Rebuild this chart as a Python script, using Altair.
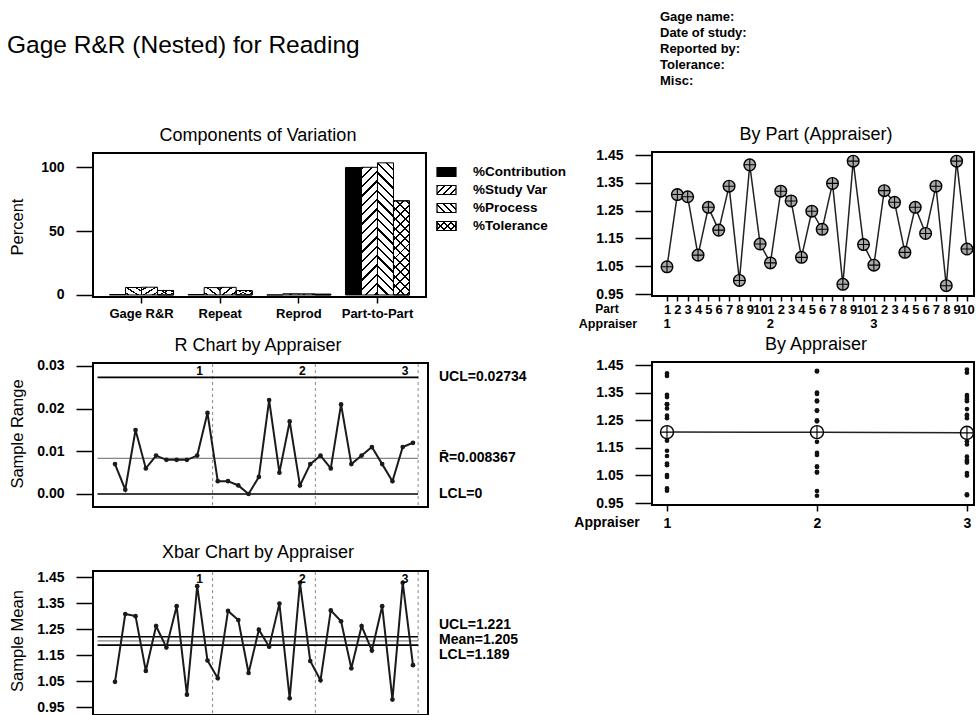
import math
import altair as alt
import pandas as pd

# ------------------------------------------------------------------ data
APPRAISERS = [1, 2, 3]
PARTS = list(range(1, 11))

XBAR_A1 = [1.048, 1.308, 1.300, 1.090, 1.262, 1.180, 1.338, 0.999, 1.415, 1.130]
XBAR_A2 = [1.062, 1.320, 1.285, 1.082, 1.248, 1.183, 1.348, 0.985, 1.428, 1.128]
XBAR_A3 = [1.054, 1.322, 1.280, 1.100, 1.262, 1.168, 1.338, 0.980, 1.428, 1.112]

RANGE_A1 = [0.007, 0.001, 0.015, 0.006, 0.009, 0.008, 0.008, 0.008, 0.009, 0.019]
RANGE_A2 = [0.003, 0.003, 0.002, 0.000, 0.004, 0.022, 0.005, 0.017, 0.002, 0.007]
RANGE_A3 = [0.009, 0.006, 0.021, 0.007, 0.009, 0.011, 0.007, 0.003, 0.011, 0.012]

COMPONENTS = ["Gage R&R", "Repeat", "Reprod", "Part-to-Part"]
MEASURES = ["%Contribution", "%Study Var", "%Process", "%Tolerance"]
PCT_CONTRIBUTION = [0.34, 0.33, 0.01, 99.66]
PCT_STUDY_VAR = [5.85, 5.75, 0.90, 99.83]
PCT_PROCESS = [6.05, 5.95, 0.90, 103.3]
PCT_TOLERANCE = [3.50, 3.45, 0.55, 73.6]

R_LIMIT_NAMES = ["UCL", "R\u0304", "LCL"]
R_LIMIT_VALUES = [0.02734, 0.008367, 0.0]
X_LIMIT_NAMES = ["UCL", "Mean", "LCL"]
X_LIMIT_VALUES = [1.221, 1.205, 1.189]

TITLE = "Gage R&R (Nested) for Reading"
INFO_LINES = ["Gage name:", "Date of study:", "Reported by:", "Tolerance:", "Misc:"]

# ------------------------------------------------------------------ tables
rows = []
for a, xs, rs in zip(APPRAISERS, [XBAR_A1, XBAR_A2, XBAR_A3], [RANGE_A1, RANGE_A2, RANGE_A3]):
    for p, xb, r in zip(PARTS, xs, rs):
        rows.append({"appraiser": a, "part": p, "xbar": xb, "rng": r})
parts = pd.DataFrame(rows)
parts["seq"] = list(range(1, len(parts) + 1))

seps = pd.DataFrame({
    "appraiser": APPRAISERS,
    "end": [float(parts.loc[parts["appraiser"] == a, "seq"].max()) + 0.5 for a in APPRAISERS],
})
firsts = parts[parts["part"] == 1]

comp_df = pd.DataFrame({
    "component": COMPONENTS * 4,
    "measure": [m for m in MEASURES for _ in COMPONENTS],
    "value": PCT_CONTRIBUTION + PCT_STUDY_VAR + PCT_PROCESS + PCT_TOLERANCE,
})
r_lim = pd.DataFrame({"name": R_LIMIT_NAMES, "value": R_LIMIT_VALUES})
r_lim["label"] = [f"{n}={v:g}" for n, v in zip(R_LIMIT_NAMES, R_LIMIT_VALUES)]
x_lim = pd.DataFrame({"name": X_LIMIT_NAMES, "value": X_LIMIT_VALUES})
x_lim["label"] = [f"{n}={v:g}" for n, v in zip(X_LIMIT_NAMES, X_LIMIT_VALUES)]
leg_df = pd.DataFrame({"measure": MEASURES})

# ------------------------------------------------------------------ layout
W, H = 976, 715
FONT = "Liberation Sans"
COMP = (93, 426, 153, 297)     # x0, x1, y0, y1 of each plot frame
BYPART = (652, 974, 152, 296)
BYAPP = (652, 974, 362, 505)
RCH = (93, 428, 363, 507)
XCH = (93, 428, 571, 715)
LABEL_X = 439
BAR_W = 16


def one():
    return alt.Data(values=[{}])


def stripes(w, h, period, thick, rising, ink="black", bg="white"):
    k = (w + h) / (w * w + h * h)
    a, b = k * w, k * h
    n = (w + h) / math.sqrt(2) / period
    stops = []
    i = 0
    while i < n:
        t0 = i / n
        t1 = min((i + thick / period) / n, 1.0)
        t2 = min((i + 1) / n, 1.0)
        stops += [{"offset": round(t0, 4), "color": ink}, {"offset": round(t1, 4), "color": ink},
                  {"offset": round(t1, 4), "color": bg}, {"offset": round(t2, 4), "color": bg}]
        i += 1
    if rising:
        x1, y1, x2, y2 = 0, 0, a, b
    else:
        x1, y1, x2, y2 = 0, 1, a, 1 - b
    return {"gradient": "linear", "x1": x1, "y1": y1, "x2": round(x2, 4),
            "y2": round(y2, 4), "stops": stops}


def frame(box):
    x0, x1, y0, y1 = box
    return alt.Chart(one()).mark_rect(fill="transparent", stroke="black", strokeWidth=2).encode(
        x=alt.value(x0), x2=alt.value(x1), y=alt.value(y0), y2=alt.value(y1))


def text(s, x, y, size, weight="bold", align="left", baseline="middle", angle=None):
    kw = dict(text=s, x=x, y=y, fontSize=size, fontWeight=weight, font=FONT,
              align=align, baseline=baseline, color="black")
    if angle is not None:
        kw["angle"] = angle
    return alt.Chart(one()).mark_text(**kw)


def yaxis(box, values, fmt=None):
    kw = dict(orient="left", offset=-box[0], values=values, tickSize=17, labelPadding=12,
              title=None, grid=False, domain=False)
    if fmt:
        kw["format"] = fmt
    return alt.Axis(**kw)


def lin(domain, rng):
    return alt.Scale(domain=domain, range=rng, zero=False, nice=False)


CROSS = "M-1,0L1,0M0,-1L0,1"
layers = []

# ------------------------------------------------------------------ components of variation
comp_yscale = lin([-1.6, 111], [COMP[3], COMP[2]])


def comp_xscale(shift):
    return alt.Scale(domain=COMPONENTS, range=[COMP[0] + shift, COMP[1] + shift],
                     paddingInner=0.186, paddingOuter=0.21)


# axis carrier (invisible)
layers.append(
    alt.Chart(comp_df).mark_bar(opacity=0).encode(
        x=alt.X("component:N", sort=COMPONENTS, scale=comp_xscale(0),
                axis=alt.Axis(orient="bottom", offset=COMP[3] - H, tickSize=6, labelPadding=4,
                              labelAngle=0, labelFontSize=13, title=None, grid=False, domain=False)),
        y=alt.Y("value:Q", scale=comp_yscale, axis=yaxis(COMP, [0, 50, 100]))))

px_per = (COMP[3] - COMP[2]) / 112.6
FILLS = {
    "%Contribution": ["black"],
    "%Study Var": [stripes(BAR_W, PCT_STUDY_VAR[3] * px_per, 6.6, 1.6, True)],
    "%Process": [stripes(BAR_W, PCT_PROCESS[3] * px_per, 6.6, 1.6, False)],
    "%Tolerance": [stripes(BAR_W, PCT_TOLERANCE[3] * px_per, 6.8, 1.4, True),
                   stripes(BAR_W, PCT_TOLERANCE[3] * px_per, 6.8, 1.4, False, bg="transparent")],
}
for i, m in enumerate(MEASURES):
    shift = (i - 1.5) * BAR_W
    for f in FILLS[m]:
        layers.append(
            alt.Chart(comp_df).transform_filter(alt.datum.measure == m)
            .mark_bar(fill=f, stroke="black", strokeWidth=1, width=BAR_W)
            .encode(x=alt.X("component:N", sort=COMPONENTS, scale=comp_xscale(shift), axis=None),
                    y=alt.Y("value:Q", scale=comp_yscale, axis=None)))
layers.append(frame(COMP))

# legend
leg_yscale = alt.Scale(domain=MEASURES, range=[163, 235], paddingInner=0.5, paddingOuter=0.25)
LEG_FILLS = {
    "%Contribution": ["black"],
    "%Study Var": [stripes(19, 9, 5, 1.3, True)],
    "%Process": [stripes(19, 9, 5, 1.3, False)],
    "%Tolerance": [stripes(19, 9, 5, 1.2, True), stripes(19, 9, 5, 1.2, False, bg="transparent")],
}
for m in MEASURES:
    for f in LEG_FILLS[m]:
        layers.append(
            alt.Chart(leg_df).transform_filter(alt.datum.measure == m)
            .mark_rect(fill=f, stroke="black", strokeWidth=1.2)
            .encode(y=alt.Y("measure:N", sort=MEASURES, scale=leg_yscale, axis=None),
                    x=alt.value(437), x2=alt.value(456)))
layers.append(
    alt.Chart(leg_df).mark_text(align="left", baseline="middle", fontSize=13.5, fontWeight="bold",
                                font=FONT, color="black")
    .encode(y=alt.Y("measure:N", sort=MEASURES, scale=leg_yscale, axis=None),
            x=alt.value(473), text="measure:N"))

# ------------------------------------------------------------------ by part (appraiser)
BY_TICKS = [0.95, 1.05, 1.15, 1.25, 1.35, 1.45]
bp_xscale = lin([-0.45, 30.68], [BYPART[0], BYPART[1]])
bp_yscale = lin([0.943, 1.461], [BYPART[3], BYPART[2]])
bp_x_axis = alt.Axis(orient="bottom", offset=BYPART[3] - H, values=list(range(1, 31)),
                     labelExpr="(datum.value - 1) % 10 + 1", tickSize=5, labelPadding=2,
                     labelOverlap=False, labelFlush=False, labelFontSize=13,
                     title=None, grid=False, domain=False)
layers.append(
    alt.Chart(parts).mark_line(color="#222222", strokeWidth=1.5).encode(
        x=alt.X("seq:Q", scale=bp_xscale, axis=bp_x_axis),
        y=alt.Y("xbar:Q", scale=bp_yscale, axis=yaxis(BYPART, BY_TICKS, ".2f"))))
layers.append(
    alt.Chart(parts).mark_point(shape="circle", size=135, filled=True, fill="#a8a8a8", stroke="black",
                                strokeWidth=1.4, opacity=1).encode(
        x=alt.X("seq:Q", scale=bp_xscale, axis=None),
        y=alt.Y("xbar:Q", scale=bp_yscale, axis=None)))
layers.append(
    alt.Chart(parts).mark_point(shape=CROSS, size=135, filled=False, stroke="black",
                                strokeWidth=1.1, opacity=1).encode(
        x=alt.X("seq:Q", scale=bp_xscale, axis=None),
        y=alt.Y("xbar:Q", scale=bp_yscale, axis=None)))
layers.append(
    alt.Chart(firsts).mark_text(fontSize=13, fontWeight="bold", font=FONT, color="black",
                                baseline="middle").encode(
        x=alt.X("seq:Q", scale=bp_xscale, axis=None), y=alt.value(324), text="appraiser:N"))
layers.append(frame(BYPART))

# ------------------------------------------------------------------ by appraiser
ba_xscale = lin([0.9, 3.047], [BYAPP[0], BYAPP[1]])
ba_yscale = lin([0.943, 1.461], [BYAPP[3], BYAPP[2]])
readings = (alt.Chart(parts)
            .transform_calculate(low="datum.xbar - datum.rng / 2", high="datum.xbar + datum.rng / 2")
            .transform_fold(["low", "high"], as_=["trial", "reading"]))
means = alt.Chart(parts).transform_aggregate(avg="mean(xbar)", groupby=["appraiser"])
layers.append(
    readings.mark_point(shape="circle", size=22, filled=True, color="#111111", opacity=1).encode(
        x=alt.X("appraiser:Q", scale=ba_xscale,
                axis=alt.Axis(orient="bottom", offset=BYAPP[3] - H, values=APPRAISERS, format="d",
                              tickSize=6, labelPadding=5, title=None, grid=False, domain=False)),
        y=alt.Y("reading:Q", scale=ba_yscale, axis=yaxis(BYAPP, BY_TICKS, ".2f"))))
layers.append(
    means.mark_line(color="#222222", strokeWidth=1.5).encode(
        x=alt.X("appraiser:Q", scale=ba_xscale, axis=None),
        y=alt.Y("avg:Q", scale=ba_yscale, axis=None)))
layers.append(
    means.mark_point(shape="circle", size=170, filled=True, fill="white", stroke="black",
                     strokeWidth=1.4, opacity=1).encode(
        x=alt.X("appraiser:Q", scale=ba_xscale, axis=None),
        y=alt.Y("avg:Q", scale=ba_yscale, axis=None)))
layers.append(
    means.mark_point(shape=CROSS, size=170, filled=False, stroke="black", strokeWidth=1.1,
                     opacity=1).encode(
        x=alt.X("appraiser:Q", scale=ba_xscale, axis=None),
        y=alt.Y("avg:Q", scale=ba_yscale, axis=None)))
layers.append(frame(BYAPP))


# ------------------------------------------------------------------ control charts
def control_layers(box, field, ydomain, yticks, limits, label_dy):
    x0, x1, y0, y1 = box
    xs = lin([-1.14, 31.46], [x0, x1])
    ys = lin(ydomain, [y1, y0])
    out = []
    out.append(
        alt.Chart(seps).mark_rule(color="#8a8a8a", strokeDash=[3, 3], strokeWidth=1).encode(
            x=alt.X("end:Q", scale=xs, axis=None), y=alt.value(y0 + 1), y2=alt.value(y1 - 1)))
    center = limits["name"][1]
    for cond, col, sw in [(alt.datum.name != center, "black", 1.6),
                          (alt.datum.name == center, "#666666", 1.0)]:
        out.append(
            alt.Chart(limits).transform_filter(cond).mark_rule(color=col, strokeWidth=sw).encode(
                y=alt.Y("value:Q", scale=ys, axis=None),
                x=alt.X(datum=-0.7, scale=xs, axis=None), x2=alt.X2(datum=30.5)))
    out.append(
        alt.Chart(parts).mark_line(color="#1a1a1a", strokeWidth=2).encode(
            x=alt.X("seq:Q", scale=xs, axis=None),
            y=alt.Y(f"{field}:Q", scale=ys, axis=yaxis(box, yticks, ".2f"))))
    out.append(
        alt.Chart(parts).mark_point(shape="circle", size=22, filled=True, color="#1a1a1a",
                                    opacity=1).encode(
            x=alt.X("seq:Q", scale=xs, axis=None),
            y=alt.Y(f"{field}:Q", scale=ys, axis=None)))
    out.append(
        alt.Chart(seps).mark_text(dx=-13, fontSize=12, fontWeight="bold", font=FONT, color="black",
                                  baseline="middle").encode(
            x=alt.X("end:Q", scale=xs, axis=None), y=alt.value(y0 + 8), text="appraiser:N"))
    for i, name in enumerate(limits["name"]):
        out.append(
            alt.Chart(limits).transform_filter(alt.datum.name == name)
            .mark_text(align="left", baseline="middle", fontSize=14, fontWeight="bold", font=FONT,
                       color="black", dy=label_dy[i])
            .encode(y=alt.Y("value:Q", scale=ys, axis=None), x=alt.value(LABEL_X), text="label:N"))
    out.append(frame(box))
    return out


layers += control_layers(RCH, "rng", [-0.00305, 0.0307], [0.0, 0.01, 0.02, 0.03], r_lim, [0, 0, 0])
layers += control_layers(XCH, "xbar", [0.921, 1.473], BY_TICKS, x_lim, [-12, -1, 10])

# ------------------------------------------------------------------ annotations
layers += [
    text(TITLE, 7, 53, 24.5, weight="normal", baseline="alphabetic"),
    text("Components of Variation", 258, 136, 18, weight="normal", align="center"),
    text("By Part (Appraiser)", 816, 135, 18, weight="normal", align="center"),
    text("R Chart by Appraiser", 258, 346, 18, weight="normal", align="center"),
    text("By Appraiser", 816, 345, 18, weight="normal", align="center"),
    text("Xbar Chart by Appraiser", 258, 553, 18, weight="normal", align="center"),
    text("Percent", 18, 227, 16.5, weight="normal", align="center", angle=270),
    text("Sample Range", 18, 434, 16.5, weight="normal", align="center", angle=270),
    text("Sample Mean", 18, 641, 16.5, weight="normal", align="center", angle=270),
    text("Part", 607, 309, 12, align="center"),
    text("Appraiser", 608, 324, 12.5, align="center"),
    text("Appraiser", 607, 523, 14, align="center"),
]
for i, line in enumerate(INFO_LINES):
    layers.append(text(line, 660, 17 + 16 * i, 13))

chart = (
    alt.layer(*layers)
    .resolve_scale(x="independent", y="independent")
    .properties(width=W, height=H, padding=0, autosize=alt.AutoSizeParams(type="none"),
                background="white")
    .configure_view(stroke=None)
    .configure_axis(labelFont=FONT, labelFontSize=14, labelFontWeight="bold", labelColor="black",
                    tickColor="black", tickWidth=1.5)
)

chart.save("out.html", embed_options={"renderer": "svg", "actions": False})
